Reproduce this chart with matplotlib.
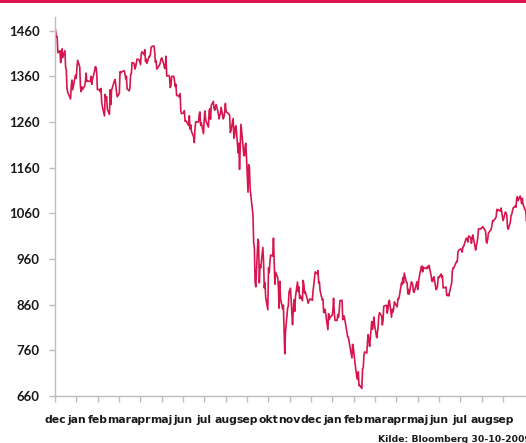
import matplotlib
matplotlib.use("Agg")
import matplotlib.pyplot as plt
from matplotlib.patches import Rectangle
import numpy as np
import pandas as pd

start_date = "2007-12-31"
start_value = 1468.4

dates_2008 = """01-02 01-03 01-04 01-07 01-08 01-09 01-10 01-11 01-14 01-15 01-16 01-17 01-18 01-22 01-23 01-24 01-25 01-28 01-29 01-30 01-31
02-01 02-04 02-05 02-06 02-07 02-08 02-11 02-12 02-13 02-14 02-15 02-19 02-20 02-21 02-22 02-25 02-26 02-27 02-28 02-29
03-03 03-04 03-05 03-06 03-07 03-10 03-11 03-12 03-13 03-14 03-17 03-18 03-19 03-20 03-24 03-25 03-26 03-27 03-28 03-31
04-01 04-02 04-03 04-04 04-07 04-08 04-09 04-10 04-11 04-14 04-15 04-16 04-17 04-18 04-21 04-22 04-23 04-24 04-25 04-28 04-29 04-30
05-01 05-02 05-05 05-06 05-07 05-08 05-09 05-12 05-13 05-14 05-15 05-16 05-19 05-20 05-21 05-22 05-23 05-27 05-28 05-29 05-30
06-02 06-03 06-04 06-05 06-06 06-09 06-10 06-11 06-12 06-13 06-16 06-17 06-18 06-19 06-20 06-23 06-24 06-25 06-26 06-27 06-30
07-01 07-02 07-03 07-07 07-08 07-09 07-10 07-11 07-14 07-15 07-16 07-17 07-18 07-21 07-22 07-23 07-24 07-25 07-28 07-29 07-30 07-31
08-01 08-04 08-05 08-06 08-07 08-08 08-11 08-12 08-13 08-14 08-15 08-18 08-19 08-20 08-21 08-22 08-25 08-26 08-27 08-28 08-29
09-02 09-03 09-04 09-05 09-08 09-09 09-10 09-11 09-12 09-15 09-16 09-17 09-18 09-19 09-22 09-23 09-24 09-25 09-26 09-29 09-30
10-01 10-02 10-03 10-06 10-07 10-08 10-09 10-10 10-13 10-14 10-15 10-16 10-17 10-20 10-21 10-22 10-23 10-24 10-27 10-28 10-29 10-30 10-31
11-03 11-04 11-05 11-06 11-07 11-10 11-11 11-12 11-13 11-14 11-17 11-18 11-19 11-20 11-21 11-24 11-25 11-26 11-28
12-01 12-02 12-03 12-04 12-05 12-08 12-09 12-10 12-11 12-12 12-15 12-16 12-17 12-18 12-19 12-22 12-23 12-24 12-26 12-29 12-30 12-31""".split()

values_2008 = [
    1447.2, 1447.2, 1411.6, 1416.2, 1390.2, 1409.1, 1420.3, 1401.0, 1416.3, 1380.9, 1373.2, 1333.3, 1325.2, 1310.5, 1338.6, 1352.1, 1330.6, 1354.0, 1362.3, 1355.8, 1378.6,
    1395.4, 1380.8, 1336.6, 1326.5, 1336.9, 1331.3, 1339.1, 1348.9, 1367.2, 1348.9, 1350.0, 1348.8, 1360.0, 1342.5, 1353.1, 1371.8, 1381.3, 1380.0, 1367.7, 1330.6,
    1331.3, 1326.8, 1333.7, 1304.3, 1293.4, 1273.4, 1320.7, 1308.8, 1315.5, 1288.1, 1276.6, 1330.7, 1298.4, 1329.5, 1349.9, 1353.0, 1341.1, 1325.8, 1315.2, 1322.7,
    1370.2, 1367.5, 1369.3, 1370.4, 1372.5, 1365.5, 1354.5, 1360.6, 1332.8, 1328.3, 1334.4, 1364.7, 1365.6, 1390.3, 1388.2, 1375.9, 1379.9, 1388.8, 1397.8, 1396.4, 1390.9, 1385.6,
    1409.3, 1413.9, 1407.5, 1418.3, 1392.6, 1397.7, 1388.3, 1403.6, 1403.0, 1408.7, 1423.6, 1425.4, 1426.6, 1413.4, 1390.7, 1394.4, 1375.9, 1385.4, 1390.8, 1398.3, 1400.4,
    1385.7, 1377.7, 1377.2, 1404.1, 1360.7, 1361.8, 1358.4, 1335.5, 1339.9, 1360.0, 1360.1, 1350.9, 1337.8, 1342.8, 1317.9, 1318.0, 1314.3, 1322.0, 1283.2, 1278.4, 1280.0,
    1284.9, 1261.5, 1262.9, 1252.3, 1273.7, 1244.7, 1253.4, 1239.5, 1228.3, 1214.9, 1245.4, 1260.3, 1260.7, 1260.0, 1277.0, 1282.2, 1252.5, 1257.8, 1234.4, 1263.2, 1284.3, 1267.4,
    1260.3, 1249.0, 1284.9, 1289.2, 1266.1, 1296.3, 1305.3, 1289.6, 1285.8, 1292.9, 1298.2, 1278.6, 1266.7, 1274.5, 1277.7, 1292.2, 1266.8, 1271.5, 1281.7, 1300.7, 1282.8,
    1277.6, 1275.0, 1236.8, 1242.3, 1267.8, 1224.5, 1232.0, 1249.1, 1251.7, 1192.7, 1213.6, 1156.4, 1206.5, 1255.1, 1207.1, 1188.2, 1185.9, 1209.2, 1213.3, 1106.4, 1166.4,
    1161.1, 1114.3, 1099.2, 1056.9, 996.2, 984.9, 909.9, 899.2, 1003.4, 998.0, 907.8, 946.4, 940.6, 985.4, 955.1, 896.8, 908.1, 876.8, 848.9, 940.5, 930.1, 954.1, 968.8,
    966.3, 1005.8, 952.8, 904.9, 931.0, 919.2, 899.0, 852.3, 911.3, 873.3, 850.8, 859.1, 806.6, 752.4, 800.0, 851.8, 857.4, 887.7, 896.2,
    816.2, 848.8, 870.7, 845.2, 876.1, 909.7, 888.7, 899.2, 873.6, 879.7, 868.6, 913.2, 904.4, 885.3, 887.9, 871.6, 863.2, 868.2, 872.8, 869.4, 890.6, 903.3,
]

dates_2009 = """01-02 01-05 01-06 01-07 01-08 01-09 01-12 01-13 01-14 01-15 01-16 01-20 01-21 01-22 01-23 01-26 01-27 01-28 01-29 01-30
02-02 02-03 02-04 02-05 02-06 02-09 02-10 02-11 02-12 02-13 02-17 02-18 02-19 02-20 02-23 02-24 02-25 02-26 02-27
03-02 03-03 03-04 03-05 03-06 03-09 03-10 03-11 03-12 03-13 03-16 03-17 03-18 03-19 03-20 03-23 03-24 03-25 03-26 03-27 03-30 03-31
04-01 04-02 04-03 04-06 04-07 04-08 04-09 04-13 04-14 04-15 04-16 04-17 04-20 04-21 04-22 04-23 04-24 04-27 04-28 04-29 04-30
05-01 05-04 05-05 05-06 05-07 05-08 05-11 05-12 05-13 05-14 05-15 05-18 05-19 05-20 05-21 05-22 05-26 05-27 05-28 05-29
06-01 06-02 06-03 06-04 06-05 06-08 06-09 06-10 06-11 06-12 06-15 06-16 06-17 06-18 06-19 06-22 06-23 06-24 06-25 06-26 06-29 06-30
07-01 07-02 07-06 07-07 07-08 07-09 07-10 07-13 07-14 07-15 07-16 07-17 07-20 07-21 07-22 07-23 07-24 07-27 07-28 07-29 07-30 07-31
08-03 08-04 08-05 08-06 08-07 08-10 08-11 08-12 08-13 08-14 08-17 08-18 08-19 08-20 08-21 08-24 08-25 08-26 08-27 08-28 08-31
09-01 09-02 09-03 09-04 09-08 09-09 09-10 09-11 09-14 09-15 09-16 09-17 09-18 09-21 09-22 09-23 09-24 09-25 09-28 09-29 09-30
10-01 10-02 10-05 10-06 10-07 10-08 10-09 10-12 10-13 10-14 10-15 10-16 10-19 10-20 10-21 10-22 10-23 10-26 10-27 10-28 10-29 10-30""".split()

values_2009 = [
    931.8, 927.5, 934.7, 906.7, 909.7, 890.4, 870.3, 871.8, 842.6, 843.7, 850.1, 805.2, 840.2, 827.5, 832.0, 836.6, 845.7, 874.1, 845.1, 825.9,
    825.4, 838.5, 832.2, 845.9, 868.6, 869.9, 827.2, 833.7, 835.2, 826.8, 789.2, 788.4, 778.9, 770.1, 743.3, 773.1, 764.9, 752.8, 735.1,
    700.8, 696.3, 712.9, 682.6, 683.4, 676.5, 719.6, 721.4, 750.7, 756.6, 753.9, 778.1, 794.4, 784.0, 768.5, 822.9, 806.1, 813.9, 832.9, 815.9, 787.5, 797.9,
    811.1, 834.4, 842.5, 835.5, 815.6, 825.2, 856.6, 858.7, 841.5, 852.1, 865.3, 869.6, 832.4, 850.1, 843.6, 851.9, 866.2, 857.5, 855.2, 873.6, 872.8,
    877.5, 907.2, 903.8, 919.5, 907.4, 929.2, 909.2, 908.4, 883.9, 893.1, 882.9, 909.7, 908.1, 903.5, 888.3, 887.0, 910.3, 893.1, 906.8, 919.1,
    942.9, 944.7, 931.8, 942.5, 940.1, 939.1, 942.4, 939.2, 944.9, 946.2, 923.7, 912.0, 910.7, 918.4, 921.2, 893.0, 895.1, 900.9, 920.3, 918.9, 927.2, 919.3,
    923.3, 896.4, 898.7, 881.0, 879.6, 882.7, 879.1, 901.1, 905.8, 932.7, 940.7, 940.4, 951.1, 954.6, 954.1, 976.3, 979.3, 982.2, 979.6, 975.1, 986.8, 987.5,
    1002.6, 1005.7, 1002.7, 997.1, 1010.5, 1007.1, 994.4, 1005.8, 1012.7, 1004.1, 979.7, 989.7, 996.5, 1007.4, 1026.1, 1025.6, 1028.0, 1028.1, 1031.0, 1028.9, 1020.6,
    998.0, 994.8, 1003.2, 1016.4, 1025.4, 1033.4, 1044.1, 1042.7, 1049.3, 1052.6, 1068.8, 1065.5, 1068.3, 1064.7, 1071.7, 1060.9, 1050.8, 1044.4, 1063.0, 1060.6, 1057.1,
    1029.9, 1025.2, 1040.5, 1054.7, 1057.6, 1065.5, 1071.5, 1076.2, 1073.2, 1092.0, 1096.6, 1087.7, 1097.9, 1091.1, 1081.4, 1092.9, 1079.6, 1067.0, 1063.4, 1042.6, 1066.1, 1036.2,
]

tick_labels = ["dec", "jan", "feb", "mar", "apr", "maj", "jun", "jul", "aug", "sep", "okt", "nov",
               "dec", "jan", "feb", "mar", "apr", "maj", "jun", "jul", "aug", "sep"]

y_ticks = [660, 760, 860, 960, 1060, 1160, 1260, 1360, 1460]
source_text = "Kilde: Bloomberg 30-10-2009"

dates = pd.to_datetime([start_date] + ["2008-" + d for d in dates_2008] + ["2009-" + d for d in dates_2009])
values = np.array([start_value] + values_2008 + values_2009)

LINE = "#D6174F"
GRID = "#BDBDBD"
TXT = "#1A1A1A"
YFONT = ["Lato", "DejaVu Sans"]
XFONT = ["DejaVu Sans"]

W, H = 526, 443
fig = plt.figure(figsize=(W / 100, H / 100), dpi=100)
fig.patch.set_facecolor("white")

x0 = pd.Timestamp(start_date)
px_per_day = 0.707
x1 = x0 + pd.Timedelta(days=700)
ax = fig.add_axes([55 / W, 47 / H, 700 * px_per_day / W, (396 - 17) / H])
ax.plot(dates, values, color=LINE, lw=1.2, solid_joinstyle="round")
ax.set_xlim(x0, x1)
ax.set_ylim(660, 1490)

for s in ["top", "right"]:
    ax.spines[s].set_visible(False)
for s in ["left", "bottom"]:
    ax.spines[s].set_color(GRID)
    ax.spines[s].set_linewidth(1.0)

ax.set_yticks(y_ticks)
ax.set_yticklabels([str(v) for v in y_ticks])
tick_pos = [x0 + pd.Timedelta(days=30.17 * i) for i in range(len(tick_labels))]
ax.set_xticks(tick_pos)
ax.set_xticklabels(tick_labels)

ax.tick_params(axis="y", direction="out", length=4, width=1, color=GRID, pad=7,
               labelsize=9.5, labelcolor=TXT)
ax.tick_params(axis="x", direction="out", length=4, width=1, color=GRID, pad=10,
               labelsize=7.8, labelcolor=TXT)
for lab in ax.get_yticklabels():
    lab.set_fontfamily(YFONT)
    lab.set_fontweight("bold")
for lab in ax.get_xticklabels():
    lab.set_fontfamily(XFONT)
    lab.set_fontweight("bold")

fig.add_artist(Rectangle((0, 1 - 2.5 / H), 1, 2.5 / H, transform=fig.transFigure,
                         facecolor="#DC1452", edgecolor="none"))
fig.text(378 / W, 1 - 439 / H, source_text, fontsize=6.7, fontweight="bold",
         family=XFONT, color=TXT, ha="left", va="center")

fig.savefig("out.png", dpi=100)
